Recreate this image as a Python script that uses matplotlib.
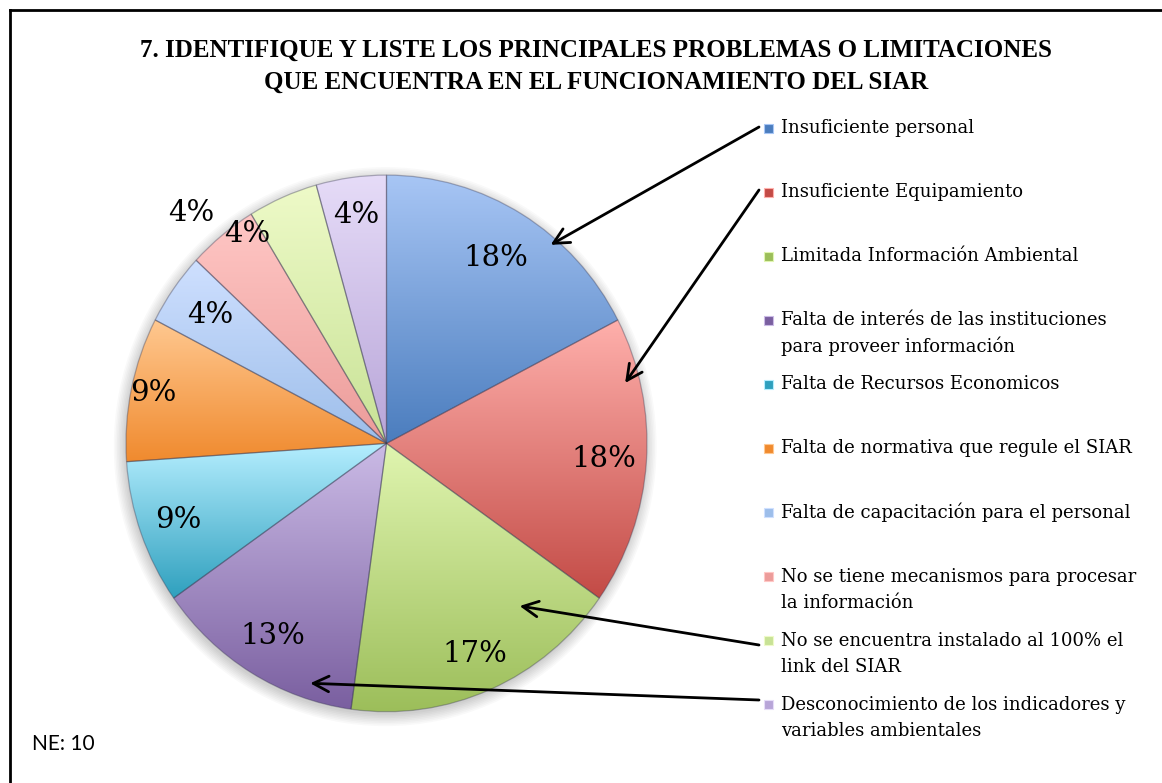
import numpy as np
import matplotlib.pyplot as plt
from matplotlib import font_manager
from matplotlib.lines import Line2D
from matplotlib.patches import Rectangle, Ellipse
from matplotlib.colors import LinearSegmentedColormap

W, H = 1162, 783

categories = [
    "Insuficiente personal",
    "Insuficiente Equipamiento",
    "Limitada Información Ambiental",
    "Falta de interés de las instituciones\npara proveer información",
    "Falta de Recursos Economicos",
    "Falta de normativa que regule el SIAR",
    "Falta de capacitación para el personal",
    "No se tiene mecanismos para procesar\nla información",
    "No se encuentra instalado al 100% el\nlink del SIAR",
    "Desconocimiento de los indicadores y\nvariables ambientales",
]
# respuestas por categoria (tamano de las porciones)
responses = [4, 4, 4, 3, 2, 2, 1, 1, 1, 1]
# etiquetas tal como aparecen en el grafico
pct_labels = ["18%", "18%", "17%", "13%", "9%", "9%", "4%", "4%", "4%", "4%"]

top_colors = ["#A8C6F5", "#FFB0AC", "#E0F5B0", "#CBBBE6", "#B5EEFF",
              "#FFC890", "#CFE0FF", "#FFC7C5", "#EEFAC8", "#E6DCF8"]
bottom_colors = ["#4B7DBE", "#C34B46", "#9CBE5A", "#7A5FA0", "#2FA0BE",
                 "#F08A2E", "#9DBEEA", "#EC9C9A", "#C8E296", "#B8A5D8"]

# radial position / angular shift of each percent label
label_r = [0.81, 0.835, 0.855, 0.84, 0.85, 0.915, 0.83, 1.14, 0.945, 0.86]
label_shift = [0, 0, 0, 0, 0, 0, 0, 2, 11, 0]


def pick_font(names):
    avail = {f.name for f in font_manager.fontManager.ttflist}
    for n in names:
        if n in avail:
            return n
    return "DejaVu Serif"


title_font = pick_font(["DejaVu Serif Condensed", "Liberation Sans Narrow", "Liberation Serif"])
text_font = "DejaVu Serif"

fig = plt.figure(figsize=(W / 100, H / 100), dpi=100)
fig.patch.set_facecolor("white")

# pie axes (slightly taller than wide, like the original)
cx, cy, rx, ry = 386.5, 443.4, 260.5, 268.3
ax = fig.add_axes([(cx - rx) / W, 1 - (cy + ry) / H, 2 * rx / W, 2 * ry / H])
wedges, _ = ax.pie(responses, startangle=90, counterclock=False, radius=1,
                   wedgeprops=dict(linewidth=0))
ax.set_aspect("auto")

# soft shadow behind the pie
for k in range(8):
    ax.add_patch(Ellipse((-0.005, -0.012), 2 + 0.012 * k, 2 + 0.012 * k,
                         facecolor="black", edgecolor="none", alpha=0.025, zorder=0,
                         clip_on=False))

for i, w in enumerate(wedges):
    ext = w.get_path().get_extents()
    cmap = LinearSegmentedColormap.from_list("g%d" % i, [bottom_colors[i], top_colors[i]])
    grad = np.linspace(0, 1, 256).reshape(-1, 1)
    im = ax.imshow(grad, extent=[ext.x0, ext.x1, ext.y0, ext.y1], origin="lower",
                   cmap=cmap, aspect="auto", zorder=1)
    im.set_clip_path(w)
    w.set_facecolor("none")
    w.set_edgecolor((0.2, 0.2, 0.3, 0.35))
    w.set_linewidth(0.9)
    w.set_zorder(2)

    mid = np.deg2rad((w.theta1 + w.theta2) / 2 + label_shift[i])
    ax.text(label_r[i] * np.cos(mid), label_r[i] * np.sin(mid), pct_labels[i],
            ha="center", va="center", fontsize=21, family=text_font, zorder=3)

ax.set_xlim(-1, 1)
ax.set_ylim(-1, 1)
ax.axis("off")

# legend drawn by hand: marker aligned with the first line of each entry
leg_y0, leg_step, line_gap = 128, 64.1, 26
for i, lab in enumerate(categories):
    y = leg_y0 + leg_step * i
    fig.patches.append(Rectangle((764 / W, 1 - (y + 4.5) / H), 9 / W, 9 / H,
                                 transform=fig.transFigure, facecolor=bottom_colors[i],
                                 edgecolor=top_colors[i], linewidth=0.8))
    for k, line in enumerate(lab.split("\n")):
        fig.text(781 / W, 1 - (y + line_gap * k) / H, line, ha="left", va="center",
                 fontsize=13, family=text_font)

# arrows from legend entries into the pie
arrows = [(0, (0.63, 0.74), 127), (1, (0.916, 0.225), 190),
          (8, (0.511, -0.606), 645), (9, (-0.293, -0.894), 700)]
for idx, xy, ty in arrows:
    ax.annotate("", xy=xy, xycoords="data", xytext=(759 / W, 1 - ty / H),
                textcoords="figure fraction",
                arrowprops=dict(arrowstyle="->", lw=2, color="black",
                                mutation_scale=28, shrinkA=0, shrinkB=0),
                annotation_clip=False, zorder=5)

# title
t1 = fig.text(596 / W, 1 - 50 / H, "7. IDENTIFIQUE Y LISTE LOS PRINCIPALES PROBLEMAS O LIMITACIONES",
              ha="center", va="center", fontsize=20, fontweight="bold", family=title_font)
t2 = fig.text(596 / W, 1 - 82 / H, "QUE ENCUENTRA EN EL FUNCIONAMIENTO DEL SIAR",
              ha="center", va="center", fontsize=20, fontweight="bold", family=title_font)
fig.canvas.draw()
r = fig.canvas.get_renderer()
scale = 907 / t1.get_window_extent(r).width
for t in (t1, t2):
    t.set_fontsize(20 * scale)

fig.text(32 / W, 1 - 744 / H, "NE: 10", ha="left", va="center", fontsize=15, family="Lato")

# chart border (top and left visible)
fig.lines.append(Line2D([10 / W, 1], [1 - 10 / H, 1 - 10 / H], transform=fig.transFigure,
                        color="black", lw=2))
fig.lines.append(Line2D([10 / W, 10 / W], [0, 1 - 10 / H], transform=fig.transFigure,
                        color="black", lw=2))

fig.savefig("out.png", dpi=100)
